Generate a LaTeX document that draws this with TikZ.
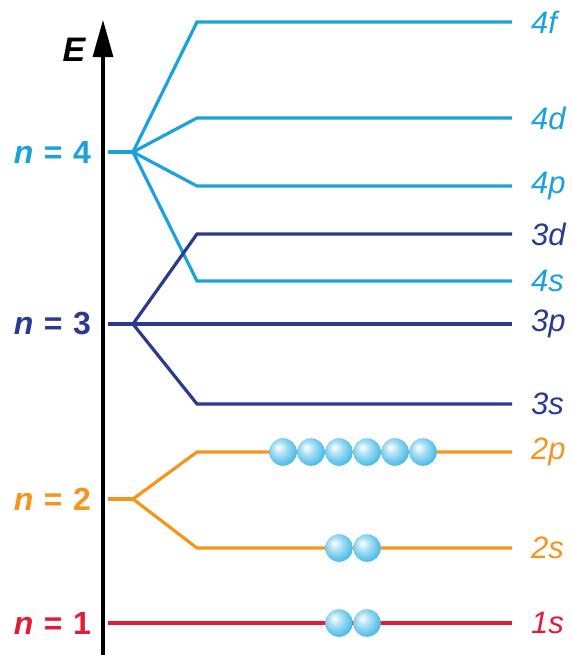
\documentclass[tikz,border=0pt]{standalone}
\usepackage{fontspec}
\setsansfont{Liberation Sans}
\usetikzlibrary{arrows.meta}
\definecolor{cfour}{HTML}{1BA1DB}
\definecolor{cthree}{HTML}{2B3990}
\definecolor{ctwo}{HTML}{F7941D}
\definecolor{cone}{HTML}{E31B37}
\definecolor{corb}{HTML}{0FA5DF}
\pgfdeclareradialshading{orb}{\pgfpoint{-9bp}{9bp}}{color(0bp)=(white); color(12bp)=(corb!35); color(32bp)=(corb!85); color(50bp)=(corb)}
\tikzset{
  every picture/.style={font=\sffamily\fontsize{15.5}{18}\selectfont},
  level/.style={draw=#1, line width=1.6pt},
  shell/.style={text=#1, anchor=east, font=\sffamily\bfseries\fontsize{16}{19}\selectfont},
  orbname/.style={text=#1, anchor=west, font=\sffamily\itshape\fontsize{15.5}{18}\selectfont},
  electron/.style={circle, minimum size=13.8pt, inner sep=0pt, shade, shading=orb},
}
\newcommand{\shelltext}[1]{\textit{n}\hspace{0.33em}=\hspace{0.33em}#1}
\begin{document}
\begin{tikzpicture}[x=0.5pt, y=-0.5pt]
  \useasboundingbox (0,0) rectangle (572,655);
  % energy axis
  \coordinate (axbot) at (103,655);
  \coordinate (axtop) at (103,20);
  \draw[line width=1.6pt, -{Triangle[length=18.5pt, width=10pt]}] (axbot) -- (axtop);
  \node[font=\sffamily\bfseries\itshape\fontsize{17}{20}\selectfont] (E) at (74,50) {E};
  % n = 4
  \node[shell=cfour] (n4) at (98,152) {\shelltext{4}};
  \coordinate (s4) at (108,152);
  \coordinate (b4) at (133,152);
  \draw[level=cfour] (s4) -- (b4);
  \foreach \l/\y in {f/22, d/118, p/186, s/281}{
    \coordinate (k4\l) at (197,\y);
    \coordinate (e4\l) at (512,\y);
    \node[orbname=cfour] (o4\l) at (524,\y) {4\l};
    \draw[level=cfour] (b4) -- (k4\l) -- (e4\l);
  }
  % n = 3
  \node[shell=cthree] (n3) at (98,324) {\shelltext{3}};
  \coordinate (s3) at (108,324);
  \coordinate (b3) at (133,324);
  \draw[level=cthree] (s3) -- (b3);
  \foreach \l/\y in {d/234, p/324, s/404}{
    \coordinate (k3\l) at (197,\y);
    \coordinate (e3\l) at (512,\y);
    \node[orbname=cthree] (o3\l) at (524,\y) {3\l};
    \draw[level=cthree] (b3) -- (k3\l) -- (e3\l);
  }
  % n = 2
  \node[shell=ctwo] (n2) at (98,499) {\shelltext{2}};
  \coordinate (s2) at (108,499);
  \coordinate (b2) at (133,499);
  \draw[level=ctwo] (s2) -- (b2);
  \foreach \l/\y in {p/452, s/548}{
    \coordinate (k2\l) at (197,\y);
    \coordinate (e2\l) at (512,\y);
    \node[orbname=ctwo] (o2\l) at (524,\y) {2\l};
    \draw[level=ctwo] (b2) -- (k2\l) -- (e2\l);
  }
  % n = 1
  \node[shell=cone] (n1) at (98,623) {\shelltext{1}};
  \coordinate (s1) at (108,623);
  \coordinate (e1s) at (512,623);
  \node[orbname=cone] (o1s) at (524,623) {1s};
  \draw[level=cone] (s1) -- (e1s);
  % electrons
  \foreach \i/\x in {1/283, 2/311, 3/339, 4/367, 5/395, 6/423}
    \node[electron] (el2p\i) at (\x,452) {};
  \foreach \i/\x in {1/339, 2/367}{
    \node[electron] (el2s\i) at (\x,548) {};
    \node[electron] (el1s\i) at (\x,623) {};
  }
\end{tikzpicture}
\end{document}
